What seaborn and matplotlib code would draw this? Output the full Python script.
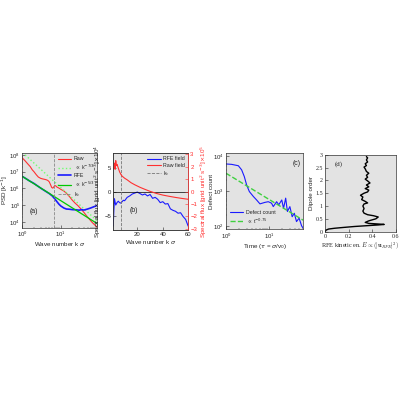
import numpy as np
import pandas as pd
import seaborn as sns
import matplotlib.pyplot as plt
from matplotlib.ticker import NullFormatter

# (a) energy spectra vs wave number k*sigma
k_raw = [1.0, 1.2, 1.4, 1.6, 1.8, 2.0, 2.3, 2.6, 3.0, 3.4, 3.8, 4.2, 4.6, 5.0, 5.4, 5.8,
         6.2, 6.6, 7.0, 7.5, 8.0, 9.0, 10, 12, 14, 17, 20, 24, 28, 33, 40, 48, 57, 66, 76, 90]
psd_raw = [6.5e7, 4.2e7, 2.8e7, 2.0e7, 1.3e7, 1.0e7, 6.6e6, 4.8e6, 4.0e6, 3.7e6, 3.5e6, 3.3e6,
           3.0e6, 2.5e6, 1.7e6, 1.15e6, 1.05e6, 1.25e6, 1.5e6, 1.4e6, 1.2e6, 1.05e6, 8.9e5,
           7.1e5, 5.2e5, 3.2e5, 2.0e5, 1.3e5, 9.5e4, 6.3e4, 3.8e4, 2.2e4, 1.4e4, 9.5e3, 6.9e3, 4.8e3]
k_rfe = [1, 1.25, 1.5, 2, 2.5, 3, 4, 5, 6, 7, 8, 9, 10, 12, 14, 17, 20, 25, 30, 35, 40, 45,
         50, 60, 70, 80, 90]
psd_rfe = [5.2e6, 3.8e6, 2.9e6, 2.0e6, 1.4e6, 1.05e6, 6.9e5, 5.0e5, 3.6e5, 2.4e5, 1.6e5,
           1.15e5, 9.1e4, 6.9e4, 6.0e4, 5.8e4, 5.5e4, 5.4e4, 5.1e4, 5.5e4, 5.2e4, 5.6e4,
           6.0e4, 6.9e4, 7.9e4, 8.9e4, 1.0e5]
k_fit = [1, 90]
psd_fit_raw = [1.4e8, 1.15e4]
psd_fit_rfe = [5.2e6, 8.0e3]
k_c = 6.8

# (b) spectral flux
k_flux_rfe = [1, 1.5, 2, 2.5, 3, 4, 5, 6, 7, 8, 9, 10, 12, 14, 16, 18, 20, 22, 24, 26, 28,
              30, 32, 34, 36, 38, 40, 42, 44, 46, 48, 50, 52, 54, 56, 58, 60]
flux_rfe = [-7.2, -4.0, -1.5, -2.2, -2.8, -2.3, -2.0, -2.3, -2.4, -2.1, -1.8, -1.9, -1.2,
            -0.9, -0.5, -0.3, -0.1, -0.4, -0.7, -0.5, -0.9, -0.6, -1.4, -1.2, -1.6, -2.3,
            -2.1, -2.6, -2.5, -3.6, -3.9, -4.1, -4.5, -4.4, -5.2, -5.8, -7.2]
k_flux_raw = [1.5, 2, 2.5, 3, 3.5, 4, 5, 6, 7, 8, 10, 12, 15, 18, 22, 26, 30, 35, 40, 45,
              50, 55, 60]
flux_raw = [1.9, 2.3, 1.8, 2.5, 2.1, 2.2, 1.9, 1.6, 1.4, 1.25, 1.08, 0.95, 0.72, 0.55, 0.35,
            0.18, 0.02, -0.15, -0.28, -0.38, -0.47, -0.55, -0.62]

# (c) defect count vs time
t_def = [1, 1.35, 1.93, 2.3, 2.65, 3.0, 3.47, 4.3, 5.1, 6.1, 8, 9.5, 11.3, 12.4, 14.8, 16.6,
         19.5, 21.4, 24, 26.3, 30, 33.9, 38, 42.7, 49, 56, 61]
n_def = [5900, 5750, 5250, 4000, 2570, 1480, 955, 690, 550, 425, 470, 490, 445, 355, 490,
         400, 550, 316, 620, 257, 355, 182, 229, 132, 166, 100, 85]
t_fit = [1, 61]
n_fit = [3200, 145]

# (d) dipole order vs RFE kinetic energy
e_rfe = [0.00, 0.01, 0.03, 0.08, 0.15, 0.25, 0.35, 0.45, 0.50, 0.44, 0.37, 0.34, 0.37, 0.43,
         0.45, 0.41, 0.36, 0.33, 0.32, 0.33, 0.32, 0.33, 0.36, 0.34, 0.31, 0.32, 0.30, 0.33,
         0.36, 0.37, 0.34, 0.37, 0.35, 0.38, 0.36, 0.34, 0.36, 0.35, 0.37, 0.35, 0.34, 0.33,
         0.35, 0.34, 0.36, 0.35, 0.36, 0.35]
dipole = [0.00, 0.06, 0.10, 0.13, 0.16, 0.20, 0.23, 0.26, 0.28, 0.30, 0.32, 0.36, 0.42, 0.50,
          0.57, 0.62, 0.66, 0.72, 0.80, 0.90, 1.00, 1.08, 1.12, 1.18, 1.25, 1.35, 1.42, 1.50,
          1.55, 1.62, 1.68, 1.75, 1.82, 1.90, 1.98, 2.05, 2.12, 2.20, 2.28, 2.35, 2.45, 2.52,
          2.58, 2.65, 2.72, 2.80, 2.88, 2.93]

sns.set_style("ticks", {"axes.facecolor": "#e3e3e3", "xtick.direction": "in",
                        "ytick.direction": "in", "axes.edgecolor": "#333333"})
plt.rcParams['font.family'] = ['Liberation Sans', 'DejaVu Sans']
plt.rcParams['font.size'] = 4.5
plt.rcParams['axes.linewidth'] = 0.5
for a in ['x', 'y']:
    plt.rcParams[a + 'tick.major.size'] = 2
    plt.rcParams[a + 'tick.minor.size'] = 1
    plt.rcParams[a + 'tick.major.width'] = 0.4
    plt.rcParams[a + 'tick.minor.width'] = 0.3
    plt.rcParams[a + 'tick.major.pad'] = 1.5
    plt.rcParams[a + 'tick.labelsize'] = 4.3

fig = plt.figure(figsize=(4, 4), dpi=100)
ax_a = fig.add_axes([0.056, 0.431, 0.1875, 0.186])
ax_b = fig.add_axes([0.283, 0.425, 0.1875, 0.192])
ax_c = fig.add_axes([0.565, 0.427, 0.193, 0.190])
ax_d = fig.add_axes([0.8125, 0.421, 0.1775, 0.192])

red, blue, green, lgreen = '#ff3030', '#1a1aff', '#00c800', '#70ff70'

# ---- (a)
sns.lineplot(x=k_raw, y=psd_raw, ax=ax_a, color=red, lw=0.8, label='Raw')
sns.lineplot(x=k_fit, y=psd_fit_raw, ax=ax_a, color=lgreen, lw=1.0, ls=':',
             label=r'$\propto$ k$^{-7/3}$')
sns.lineplot(x=k_rfe, y=psd_rfe, ax=ax_a, color=blue, lw=1.2, label='RFE')
sns.lineplot(x=k_fit, y=psd_fit_rfe, ax=ax_a, color=green, lw=0.9,
             label=r'$\propto$ k$^{-5/3}$')
ax_a.axvline(k_c, color='#888888', ls='--', lw=0.6, label=r'k$_c$')
ax_a.set_xscale('log')
ax_a.set_yscale('log')
ax_a.set_xlim(1, 90)
ax_a.set_ylim(4.7e3, 1.26e8)
ax_a.set_yticks([1e4, 1e5, 1e6, 1e7, 1e8])
ax_a.xaxis.set_minor_formatter(NullFormatter())
ax_a.yaxis.set_minor_formatter(NullFormatter())
ax_a.set_xlabel(r'Wave number k $\sigma$', labelpad=1)
ax_a.set_ylabel(r'PSD [k$^{-1}$]')
ax_a.yaxis.set_label_coords(-0.16, 0.5)
ax_a.legend(loc='upper right', frameon=False, fontsize=3.8, handlelength=2.6,
            labelspacing=0.25, borderaxespad=0.2, handletextpad=0.4)
ax_a.text(0.1, 0.2, '(a)', transform=ax_a.transAxes, fontsize=5)

# ---- (b)
ax_b2 = ax_b.twinx()
sns.lineplot(x=k_flux_rfe, y=flux_rfe, ax=ax_b, color=blue, lw=0.8, label='RFE field')
sns.lineplot(x=k_flux_raw, y=flux_raw, ax=ax_b2, color=red, lw=0.8, legend=False)
ax_b.axhline(0, color='k', lw=0.5)
ax_b.axvline(k_c, color='#777777', ls='--', lw=0.6)
ax_b.set_xlim(1, 60)
ax_b.set_ylim(-8, 8)
ax_b.set_xticks([20, 40, 60])
ax_b.set_yticks([-5, 0, 5])
ax_b2.set_ylim(-3.1, 3.1)
ax_b2.set_yticks([-3, -2, -1, 0, 1, 2, 3])
ax_b2.tick_params(axis='y', colors=red, direction='in')
ax_b2.spines['right'].set_color(red)
ax_b.set_xlabel(r'Wave number k $\sigma$', labelpad=1)
ax_b.set_ylabel(r'Spectral flux [grid unit$^2$ s$^{-3}$]$\times$10$^4$', labelpad=1)
ax_b2.set_ylabel(r'Spectral flux [grid unit$^2$ s$^{-3}$]$\times$10$^5$', color=red,
                 labelpad=1)
h_b = [plt.Line2D([], [], color=blue, lw=0.8), plt.Line2D([], [], color=red, lw=0.8),
       plt.Line2D([], [], color='#777777', ls='--', lw=0.6)]
ax_b.legend(h_b, ['RFE field', 'Raw field', r'k$_c$'], loc='upper right', frameon=False,
            fontsize=3.8, handlelength=2.6, labelspacing=0.25, borderaxespad=0.2,
            handletextpad=0.4)
ax_b.text(0.22, 0.24, '(b)', transform=ax_b.transAxes, fontsize=5)

# ---- (c)
sns.lineplot(x=t_def, y=n_def, ax=ax_c, color=blue, lw=0.8, label='Defect count')
sns.lineplot(x=t_fit, y=n_fit, ax=ax_c, color='#40d040', lw=1.0, ls='--',
             label=r'$\propto$ t$^{-0.75}$')
ax_c.set_xscale('log')
ax_c.set_yscale('log')
ax_c.set_xlim(1, 61)
ax_c.set_ylim(80, 1.2e4)
ax_c.set_yticks([1e2, 1e3, 1e4])
ax_c.xaxis.set_minor_formatter(NullFormatter())
ax_c.yaxis.set_minor_formatter(NullFormatter())
ax_c.set_xlabel(r'Time ($\tau$ = $\sigma$/v$_0$)', labelpad=1)
ax_c.set_ylabel('Defect count')
ax_c.yaxis.set_label_coords(-0.15, 0.5)
ax_c.legend(loc='lower left', frameon=False, fontsize=3.8, handlelength=2.6,
            labelspacing=0.25, borderaxespad=0.3, handletextpad=0.4)
ax_c.text(0.86, 0.85, '(c)', transform=ax_c.transAxes, fontsize=5)

# ---- (d)
sns.lineplot(x=e_rfe, y=dipole, ax=ax_d, color='k', lw=1.0, sort=False, estimator=None)
ax_d.set_xlim(0, 0.6)
ax_d.set_ylim(0, 3)
ax_d.set_xticks([0, 0.2, 0.4, 0.6])
ax_d.set_xticklabels(['0', '0.2', '0.4', '0.6'])
ax_d.set_yticks([0, 0.5, 1, 1.5, 2, 2.5, 3])
ax_d.set_yticklabels(['0', '0.5', '1', '1.5', '2', '2.5', '3'])
for lbl in ax_d.get_xticklabels() + ax_d.get_yticklabels():
    lbl.set_family('Liberation Serif')
ax_d.set_xlabel(r'RFE kinetic en. $E \propto (|\mathbf{u}_{RFE}|^2)$',
                family='Liberation Serif', math_fontfamily='cm', labelpad=1)
ax_d.set_ylabel('Dipole order', labelpad=1)
ax_d.text(0.14, 0.86, '(d)', transform=ax_d.transAxes, fontsize=5,
          family='Liberation Serif')

fig.savefig('out.png', dpi=100)
